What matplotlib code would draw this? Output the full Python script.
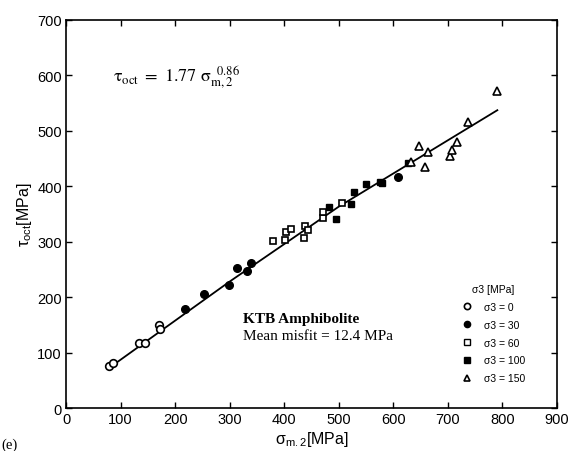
import matplotlib
matplotlib.use("Agg")
import matplotlib.pyplot as plt
from matplotlib.lines import Line2D

plt.rcParams['font.family'] = ['Liberation Sans', 'DejaVu Sans']
plt.rcParams['mathtext.fontset'] = 'custom'
plt.rcParams['mathtext.rm'] = 'Liberation Sans'
plt.rcParams['mathtext.it'] = 'Liberation Sans:italic'
plt.rcParams['mathtext.bf'] = 'Liberation Sans:bold'

# ---- data ----
s0_x = [79, 87, 133, 144, 171, 172]
s0_y = [75, 82, 118, 118, 149, 142]

s30_x = [219, 253, 299, 313, 332, 340, 608]
s30_y = [179, 205, 221, 253, 247, 262, 416]

s60_x = [380, 401, 404, 412, 438, 443, 437, 472, 472, 506]
s60_y = [302, 303, 318, 322, 328, 321, 307, 342, 354, 369]

s100_x = [483, 495, 522, 529, 550, 575, 579, 627]
s100_y = [362, 341, 368, 390, 404, 408, 405, 441]

s150_x = [632, 648, 659, 664, 705, 707, 717, 738, 791]
s150_y = [444, 472, 435, 462, 455, 465, 480, 515, 572]

fit_x = [80, 300, 500, 791]
fit_y = [73, 228, 363, 537]

legend_labels = ['σ3 = 0', 'σ3 = 30', 'σ3 = 60', 'σ3 = 100', 'σ3 = 150']
xticks = [0, 100, 200, 300, 400, 500, 600, 700, 800, 900]
yticks = [0, 100, 200, 300, 400, 500, 600, 700]

fig = plt.figure(figsize=(5.70, 4.52), dpi=100)
ax = fig.add_axes([0.1158, 0.095, 0.861, 0.859])

ax.plot(fit_x, fit_y, color='black', lw=1.3, zorder=2)

ms = 5.5
ax.plot(s0_x, s0_y, 'o', mfc='white', mec='black', mew=1.2, ms=ms, zorder=3)
ax.plot(s30_x, s30_y, 'o', mfc='black', mec='black', ms=ms, zorder=3)
ax.plot(s60_x, s60_y, 's', mfc='white', mec='black', mew=1.2, ms=ms - 0.5, zorder=3)
ax.plot(s100_x, s100_y, 's', mfc='black', mec='black', ms=ms - 0.5, zorder=3)
ax.plot(s150_x, s150_y, '^', mfc='white', mec='black', mew=1.2, ms=ms + 0.5, zorder=3)

ax.set_xlim(0, 900)
ax.set_ylim(0, 700)
ax.set_xticks(xticks)
ax.set_yticks(yticks)
ax.tick_params(direction='in', top=True, right=True, length=4, width=1,
               labelsize=10.5, pad=3)
ax.set_xticklabels([str(v) for v in xticks])
ax.set_yticklabels([str(v) for v in yticks])
for sp in ax.spines.values():
    sp.set_linewidth(1.2)

ax.set_xlabel(r'$\mathrm{σ}_{\rm m.2}$[MPa]', fontsize=11.5, labelpad=2)
ax.set_ylabel(r'$\mathrm{τ}_{\rm oct}$[MPa]', fontsize=11.5, labelpad=2)

ax.text(86, 590, r'$\mathrm{τ}_{\rm oct}\ =\ 1.77\ \mathrm{σ}_{\rm m,2}^{\ \ 0.86}$',
        fontsize=13, math_fontfamily='stix')

ax.text(325, 155, 'KTB Amphibolite', fontsize=11, fontweight='bold',
        family='Liberation Serif')
ax.text(325, 124, 'Mean misfit = 12.4 MPa', fontsize=11,
        family='Liberation Serif')

handles = [
    Line2D([], [], ls='none', marker='o', mfc='white', mec='black', mew=1.2, ms=4.5),
    Line2D([], [], ls='none', marker='o', mfc='black', mec='black', ms=4.5),
    Line2D([], [], ls='none', marker='s', mfc='white', mec='black', mew=1.0, ms=4),
    Line2D([], [], ls='none', marker='s', mfc='black', mec='black', ms=4),
    Line2D([], [], ls='none', marker='^', mfc='white', mec='black', mew=1.2, ms=5),
]
leg = ax.legend(handles, legend_labels, title='σ3 [MPa]', loc='lower right',
                bbox_to_anchor=(0.955, 0.04), frameon=False, fontsize=7.5,
                title_fontsize=7.5, handlelength=1.2, handletextpad=1.0,
                labelspacing=0.75)

fig.text(0.002, 0.008, '(e)', fontsize=10.5, family='Liberation Serif')

fig.savefig('out.png', dpi=100)
